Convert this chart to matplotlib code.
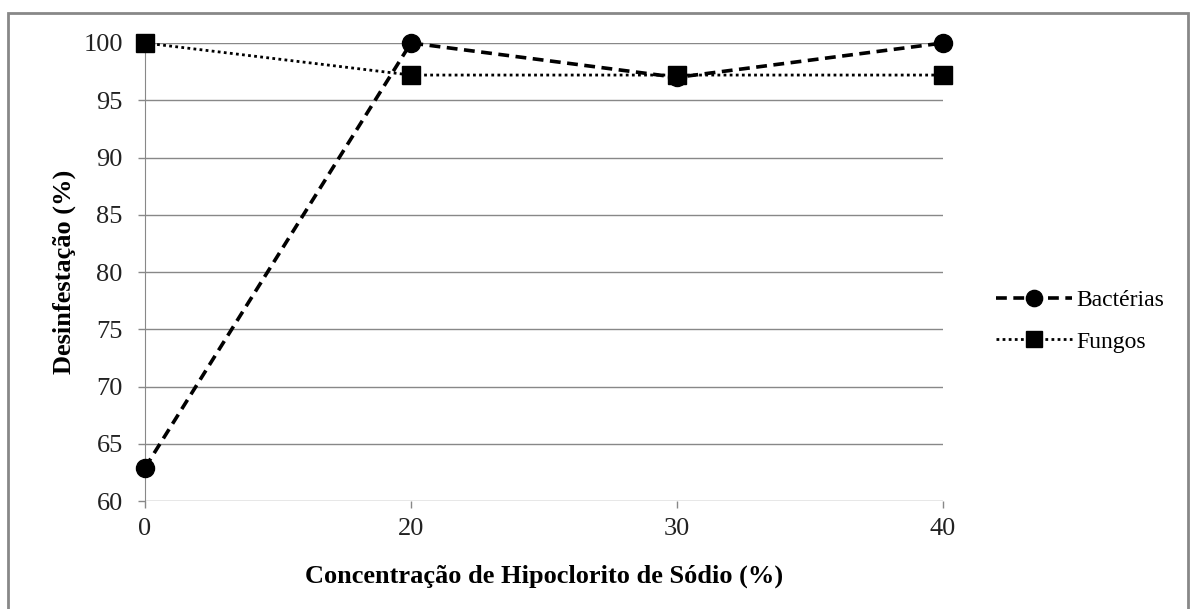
import numpy as np
import matplotlib.pyplot as plt
from matplotlib.patches import Rectangle

categorias = ['0', '20', '30', '40']
bacterias = [62.9, 100, 97.0, 100]
fungos = [100, 97.2, 97.2, 97.2]
yticks = [60, 65, 70, 75, 80, 85, 90, 95, 100]

plt.rcParams['font.family'] = ['Liberation Serif', 'DejaVu Serif']

fig = plt.figure(figsize=(11.92, 6.09), dpi=100)
fig.patches.append(Rectangle((0.007, -0.01), 0.99, 0.988, transform=fig.transFigure,
                             fill=False, edgecolor='#888888', linewidth=2.0))
ax = fig.add_axes([0.1216, 0.1773, 0.6695, 0.7521])

x = np.arange(len(categorias))
ax.plot(x, bacterias, color='black', linestyle=(0, (3, 1.8)), linewidth=2.6,
        marker='o', markersize=13, label='Bactérias', zorder=3, clip_on=False)
ax.plot(x, fungos, color='black', linestyle=(0, (1, 1.2)), linewidth=2.0,
        marker='s', markersize=13, label='Fungos', zorder=3, clip_on=False)

ax.set_xlim(0, 3)
ax.set_ylim(60, 100)
ax.set_xticks(x)
ax.set_xticklabels(categorias)
ax.set_yticks(yticks)
ax.tick_params(axis='both', labelsize=19, labelcolor='#222222', color='#888888',
               length=5, width=1)
ax.tick_params(axis='y', pad=11)
ax.tick_params(axis='x', pad=7)
ax.grid(axis='y', color='#888888', linewidth=1)
for s in ['top', 'right', 'bottom']:
    ax.spines[s].set_visible(False)
ax.spines['left'].set_color('#888888')
ax.set_axisbelow(True)

ax.set_xlabel('Concentração de Hipoclorito de Sódio (%)', fontsize=19,
              fontweight='bold', labelpad=18)
ax.set_ylabel('Desinfestação (%)', fontsize=19, fontweight='bold', labelpad=5)

ax.legend(loc='center left', bbox_to_anchor=(1.04, 0.393), frameon=False,
          fontsize=17, handlelength=3.2, handletextpad=0.2, labelspacing=0.85,
          markerscale=0.9)

fig.savefig('out.png', dpi=100, facecolor='white')
